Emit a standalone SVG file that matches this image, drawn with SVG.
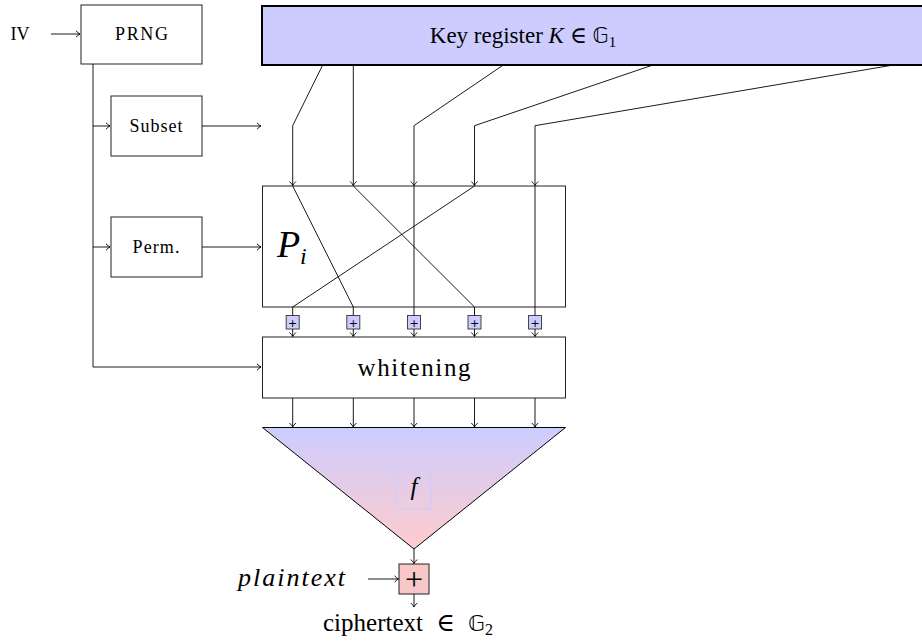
<svg xmlns="http://www.w3.org/2000/svg" width="922" height="642" viewBox="0 0 922 642">
<defs>
<marker id="arr" markerWidth="10" markerHeight="10" refX="0" refY="0" viewBox="-6 -5 8 10" markerUnits="userSpaceOnUse" orient="auto">
<path d="M-4,-3.2 Q-1.5,-0.6 0,0 Q-1.5,0.6 -4,3.2" fill="none" stroke="#000" stroke-width="0.9"/>
</marker>
<linearGradient id="fg" x1="0" y1="0" x2="0" y2="1">
<stop offset="0" stop-color="#ccccff"/>
<stop offset="1" stop-color="#ffcccc"/>
</linearGradient>
</defs>
<style>
.box{fill:#fff;stroke:#222;stroke-width:1}
.t{font-family:"Liberation Serif","DejaVu Serif",serif;fill:#000}
.c{text-anchor:middle}
.ln{fill:none;stroke:#000;stroke-width:0.9}
.a{marker-end:url(#arr)}
.pb{fill:#ccccff;stroke:#444;stroke-width:1}
.pt{font-family:"DejaVu Sans",sans-serif;font-size:11px;text-anchor:middle;fill:#000}
</style>
<rect width="922" height="642" fill="#fff"/>

<g id="iv"><text class="t c" x="20" y="40" font-size="18">IV</text></g>

<g id="prng">
<rect class="box" x="81" y="5" width="121" height="59"/>
<text class="t c" x="141.5" y="40" font-size="18" textLength="53" lengthAdjust="spacing">PRNG</text>
</g>

<g id="subset">
<rect class="box" x="111" y="96" width="91" height="60"/>
<text class="t c" x="156" y="132" font-size="18" textLength="53" lengthAdjust="spacing">Subset</text>
</g>

<g id="perm">
<rect class="box" x="111" y="217" width="91" height="60"/>
<text class="t c" x="156" y="253" font-size="18" textLength="47" lengthAdjust="spacing">Perm.</text>
</g>

<g id="key">
<rect x="262" y="6" width="670" height="59" fill="#ccccff" stroke="#000" stroke-width="2"/>
<text class="t c" x="523" y="43" font-size="23">Key register <tspan font-style="italic">K</tspan> ∈ <tspan font-family="DejaVu Sans, sans-serif" font-size="21">𝔾</tspan><tspan font-size="15" dy="4">1</tspan></text>
</g>

<g id="perm-box">
<rect x="262.5" y="186" width="303" height="121" fill="#fff" stroke="#222" stroke-width="1"/>
<text class="t" x="277" y="257" font-size="38" font-style="italic">P</text>
<text class="t" x="300" y="264" font-size="24" font-style="italic">i</text>
</g>

<g id="xors">
<rect class="pb" x="286.2" y="315.5" width="13" height="13.5"/>
<text class="pt" x="292.7" y="326.5">+</text>
<rect class="pb" x="346.8" y="315.5" width="13" height="13.5"/>
<text class="pt" x="353.3" y="326.5">+</text>
<rect class="pb" x="407.5" y="315.5" width="13" height="13.5"/>
<text class="pt" x="414" y="326.5">+</text>
<rect class="pb" x="468" y="315.5" width="13" height="13.5"/>
<text class="pt" x="474.5" y="326.5">+</text>
<rect class="pb" x="528.5" y="315.5" width="13" height="13.5"/>
<text class="pt" x="535" y="326.5">+</text>
</g>

<g id="whitening">
<rect class="box" x="262.5" y="337" width="303" height="61"/>
<text class="t c" x="414" y="376" font-size="25" textLength="113" lengthAdjust="spacing">whitening</text>
</g>

<g id="f">
<polygon points="262.5,427.5 565.5,427.5 414,549" fill="url(#fg)" stroke="#000" stroke-width="1"/>
<rect x="397" y="468" width="34" height="41" fill="none" stroke="#ccccff" stroke-width="1"/>
<text class="t c" x="414" y="495" font-size="25" font-style="italic">f</text>
</g>

<g id="xor-out">
<rect x="399" y="564" width="30" height="30" fill="#f8c8c8" stroke="#222" stroke-width="1"/>
<text x="414" y="590" font-family="Liberation Serif, serif" font-size="32" text-anchor="middle">+</text>
</g>

<g id="plaintext"><text class="t" x="238" y="586" font-size="26" font-style="italic" textLength="107" lengthAdjust="spacing">plaintext</text></g>

<g id="ciphertext"><text class="t" x="323" y="631" font-size="25" word-spacing="7">ciphertext ∈ <tspan font-family="DejaVu Sans, sans-serif" font-size="22">𝔾</tspan><tspan font-size="16" dy="4">2</tspan></text></g>

<g id="connectors">
<path class="ln a" d="M51,34 H80"/>
<path class="ln" d="M93,64 V367"/>
<path class="ln a" d="M93,126 H110"/>
<path class="ln a" d="M93,247 H110"/>
<path class="ln a" d="M93,367 H261"/>
<path class="ln a" d="M202,126 H261"/>
<path class="ln a" d="M202,247 H261"/>
<path class="ln a" d="M322.7,65 L292.7,125.7 V185.5"/>
<path class="ln a" d="M353.3,65 V185.5"/>
<path class="ln a" d="M503.3,65 L414,125.7 V185.5"/>
<path class="ln a" d="M653,65 L474.5,125.7 V185.5"/>
<path class="ln a" d="M893.3,65 L535,125.7 V185.5"/>
<path class="ln" d="M292.7,186 L353.3,307 V315.5"/>
<path class="ln" d="M353.3,186 L474.5,307 V315.5"/>
<path class="ln" d="M414,186 V315.5"/>
<path class="ln" d="M474.5,186 L292.7,307 V315.5"/>
<path class="ln" d="M535,186 V315.5"/>
<path class="ln a" d="M292.7,329 V336.5"/>
<path class="ln a" d="M353.3,329 V336.5"/>
<path class="ln a" d="M414,329 V336.5"/>
<path class="ln a" d="M474.5,329 V336.5"/>
<path class="ln a" d="M535,329 V336.5"/>
<path class="ln a" d="M292.7,398 V427"/>
<path class="ln a" d="M353.3,398 V427"/>
<path class="ln a" d="M414,398 V427"/>
<path class="ln a" d="M474.5,398 V427"/>
<path class="ln a" d="M535,398 V427"/>
<path class="ln a" d="M414,549 V563.5"/>
<path class="ln a" d="M368,579 H398.5"/>
<path class="ln a" d="M414,594 V607"/>
</g>
</svg>
